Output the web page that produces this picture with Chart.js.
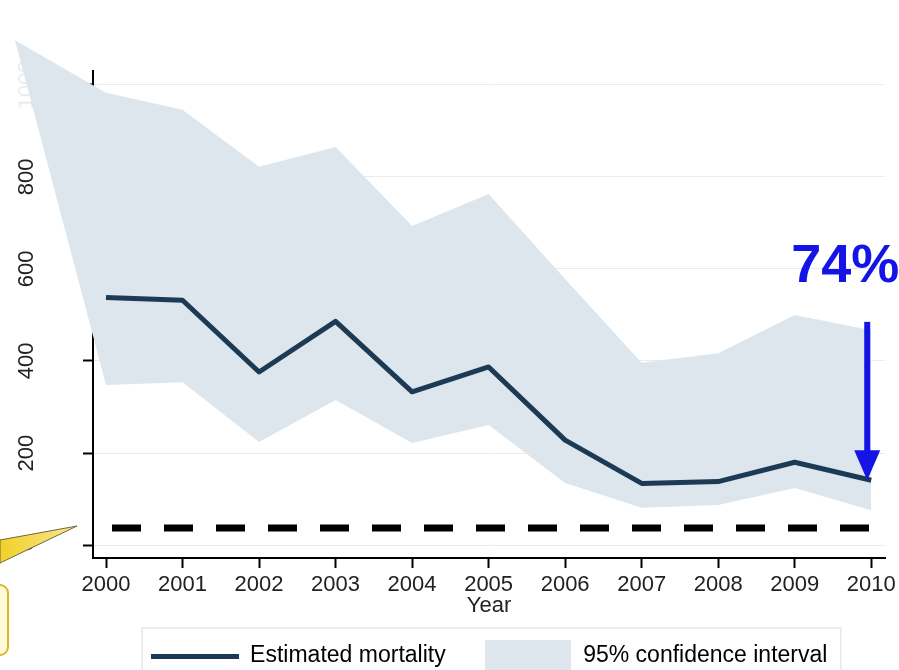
<!DOCTYPE html>
<html>
<head>
<meta charset="utf-8">
<title>Estimated mortality, 2000-2010</title>
<script src="https://cdn.jsdelivr.net/npm/chart.js@4.4.0/dist/chart.umd.min.js"></script>
<style>
  html, body { margin: 0; padding: 0; background: #fff; }
  #wrap { width: 899px; height: 670px; position: relative; }
</style>
</head>
<body>
<div id="wrap"><canvas id="chart"></canvas></div>
<script>
const years = [2000, 2001, 2002, 2003, 2004, 2005, 2006, 2007, 2008, 2009, 2010];
const mortality = [538, 532, 376, 486, 333, 387, 228, 134, 138, 180, 141];

// the band opens a little before 2000, where both bounds meet
const bandYears = [1998.81, 2000, 2001, 2002, 2003, 2004, 2005, 2006, 2007, 2008, 2009, 2010];
const bandUpper = [1097, 983, 946, 822, 865, 693, 763, 578, 396, 417, 500, 467];
const bandLower = [1097, 348, 354, 224, 315, 222, 261, 135, 81, 87, 124, 76];

const targetLevel = 37;
const yTicks = [0, 200, 400, 600, 800, 1000];
const arrowFrom = 485;

const lineColor = '#1d3a55';
const bandColor = '#dde6ed';
const arrowColor = '#1414e6';
const fontFamily = "'Liberation Sans', Arial, sans-serif";

Chart.defaults.font.family = fontFamily;
Chart.defaults.font.size = 22;
Chart.defaults.color = '#222';

function sampleCanvas(w, h, color) {
    const c = document.createElement('canvas');
    c.width = w;
    c.height = h;
    const g = c.getContext('2d');
    g.fillStyle = color;
    g.fillRect(0, 0, w, h);
    return c;
}

// filler always clips to the chart area, so widen it while datasets draw
let savedArea = null;
const areaSpill = {
    id: 'areaSpill',
    beforeDatasetsDraw(chart) {
        const a = chart.chartArea;
        savedArea = {left: a.left, top: a.top, width: a.width, height: a.height};
        a.left = 0;
        a.top = 0;
        a.width = a.right;
        a.height = a.bottom;
    },
    afterDatasetsDraw(chart) {
        Object.assign(chart.chartArea, savedArea);
    }
};

const dropArrow = {
    id: 'dropArrow',
    afterDatasetsDraw(chart) {
        const c = chart.ctx;
        const {x, y} = chart.scales;
        const last = mortality.length - 1;
        const ax = x.getPixelForValue(years[last]) - 4;
        const top = y.getPixelForValue(arrowFrom);
        const tip = y.getPixelForValue(mortality[last]);
        const drop = Math.round((1 - mortality[last] / mortality[0]) * 100);
        c.save();
        c.fillStyle = arrowColor;
        c.fillRect(ax - 3, top, 6, tip - top - 26);
        c.beginPath();
        c.moveTo(ax - 13, tip - 30);
        c.lineTo(ax + 13, tip - 30);
        c.lineTo(ax, tip);
        c.closePath();
        c.fill();
        c.font = `bold 54px ${fontFamily}`;
        c.textAlign = 'center';
        c.textBaseline = 'alphabetic';
        c.fillText(`${drop}%`, ax - 22, top - 40);
        c.restore();
    }
};

const legendFrame = {
    id: 'legendFrame',
    afterLayout(chart) {
        // centre the legend under the plot region, not the whole canvas
        chart.legend.left = chart.chartArea.left;
        chart.legend.right = chart.chartArea.right;
    },
    beforeDraw(chart) {
        const boxes = chart.legend.legendHitBoxes;
        if (!boxes || !boxes.length) return;
        const first = boxes[0];
        const last = boxes[boxes.length - 1];
        const c = chart.ctx;
        c.save();
        c.strokeStyle = '#dcdcdc';
        c.lineWidth = 1;
        c.strokeRect(first.left - 8.5, first.top - 16.5, last.left + last.width + 22 - first.left, 60);
        c.restore();
    }
};

// yellow note pointing at the zero line, mostly off the left edge
const callout = {
    id: 'callout',
    afterDraw(chart) {
        const c = chart.ctx;
        c.save();
        c.beginPath();
        c.moveTo(0, 540);
        c.lineTo(77, 526);
        c.lineTo(0, 563);
        c.closePath();
        const g = c.createLinearGradient(0, 0, 77, 0);
        g.addColorStop(0, '#f2d12a');
        g.addColorStop(1, '#f7e690');
        c.fillStyle = g;
        c.fill();
        c.strokeStyle = '#6e6843';
        c.lineWidth = 1;
        c.stroke();
        c.beginPath();
        c.roundRect(-30, 585, 38, 70, 8);
        c.fillStyle = '#fffbd8';
        c.fill();
        c.strokeStyle = '#d9b72c';
        c.lineWidth = 2;
        c.stroke();
        c.restore();
    }
};

const chart = new Chart(document.getElementById('chart'), {
    type: 'line',
    data: {
        datasets: [
            {
                label: 'Estimated mortality',
                data: years.map((yr, i) => ({x: yr, y: mortality[i]})),
                borderColor: lineColor,
                borderWidth: 5,
                borderJoinStyle: 'round',
                pointRadius: 0,
                fill: false
            },
            {
                label: 'target',
                data: [{x: years[0], y: targetLevel}, {x: years[years.length - 1], y: targetLevel}],
                borderColor: '#000',
                borderWidth: 7,
                borderDash: [29, 23],
                borderDashOffset: -6,
                borderCapStyle: 'butt',
                pointRadius: 0,
                fill: false
            },
            {
                label: '95% confidence interval',
                data: bandYears.map((yr, i) => ({x: yr, y: bandUpper[i]})),
                borderWidth: 0,
                borderColor: bandColor,
                backgroundColor: bandColor,
                pointRadius: 0,
                fill: '+1',
                clip: false
            },
            {
                label: 'lower',
                data: bandYears.map((yr, i) => ({x: yr, y: bandLower[i]})),
                borderWidth: 0,
                borderColor: bandColor,
                backgroundColor: bandColor,
                pointRadius: 0,
                fill: false,
                clip: false
            }
        ]
    },
    options: {
        responsive: true,
        maintainAspectRatio: false,
        animation: false,
        layout: {
            padding: {top: 71, right: 14, bottom: -7.5, left: 0}
        },
        scales: {
            x: {
                type: 'linear',
                min: 1999.83,
                max: 2010.18,
                afterBuildTicks: (scale) => {
                    scale.ticks = years.map(v => ({value: v}));
                },
                afterFit: (scale) => {
                    scale.height = 48.5;
                    scale.paddingLeft = 0;
                    scale.paddingRight = 0;
                },
                ticks: {
                    padding: 4,
                    maxRotation: 0,
                    callback: (v) => String(v)
                },
                grid: {
                    drawOnChartArea: false,
                    tickLength: 10,
                    tickColor: '#000',
                    tickWidth: 2
                },
                border: {color: '#000', width: 2},
                title: {
                    display: true,
                    text: 'Year',
                    color: '#222',
                    padding: {top: 0, bottom: -13}
                }
            },
            y: {
                min: -28,
                max: 1030,
                afterBuildTicks: (scale) => {
                    scale.ticks = yTicks.map(v => ({value: v}));
                },
                afterFit: (scale) => {
                    scale.width = 93;
                    scale.paddingTop = 0;
                    scale.paddingBottom = 0;
                },
                ticks: {
                    minRotation: 90,
                    maxRotation: 90,
                    crossAlign: 'center',
                    padding: 32,
                    color: (ctx) => ctx.tick.value === 1000 ? '#ececec' : '#222',
                    callback: (v) => String(v)
                },
                grid: {
                    color: '#ebebeb',
                    lineWidth: 1,
                    tickLength: 10,
                    tickColor: '#000',
                    tickWidth: 2
                },
                border: {color: '#000', width: 2}
            }
        },
        plugins: {
            legend: {
                display: true,
                position: 'bottom',
                labels: {
                    usePointStyle: true,
                    pointStyleWidth: 88,
                    padding: 38,
                    color: '#222',
                    font: {size: 23},
                    generateLabels: () => [
                        {
                            text: 'Estimated mortality',
                            pointStyle: sampleCanvas(88, 5, lineColor),
                            fillStyle: lineColor,
                            strokeStyle: lineColor,
                            lineWidth: 0,
                            hidden: false,
                            datasetIndex: 0
                        },
                        {
                            text: '95% confidence interval',
                            pointStyle: sampleCanvas(86, 32, bandColor),
                            fillStyle: bandColor,
                            strokeStyle: bandColor,
                            lineWidth: 0,
                            hidden: false,
                            datasetIndex: 2
                        }
                    ]
                }
            },
            tooltip: {enabled: false}
        }
    },
    plugins: [areaSpill, dropArrow, legendFrame, callout]
});
</script>
</body>
</html>
